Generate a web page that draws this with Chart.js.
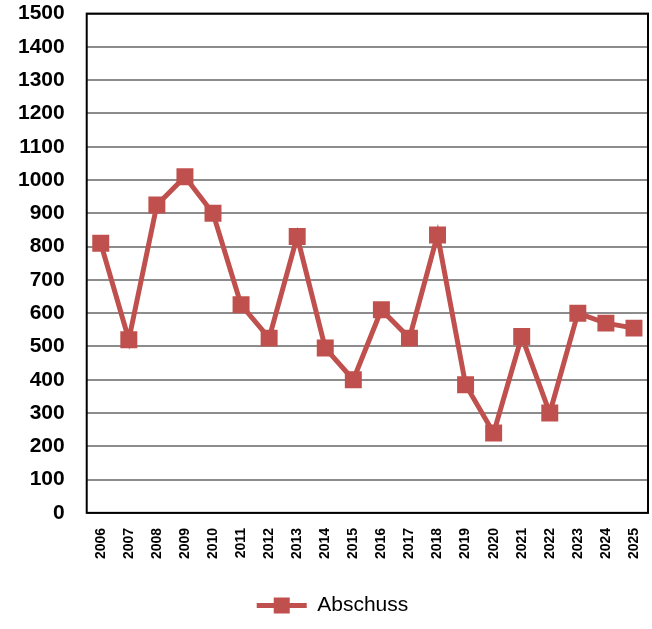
<!DOCTYPE html>
<html>
<head>
<meta charset="utf-8">
<script src="https://cdn.jsdelivr.net/npm/chart.js@4.4.1/dist/chart.umd.min.js"></script>
<style>
  html, body { margin: 0; padding: 0; background: #fff; }
  #wrap { width: 652px; height: 629px; }
</style>
</head>
<body>
<div id="wrap"><canvas id="chart"></canvas></div>
<script>
// Jahre und Werte
const years = ["2006", "2007", "2008", "2009", "2010", "2011", "2012", "2013", "2014", "2015",
               "2016", "2017", "2018", "2019", "2020", "2021", "2022", "2023", "2024", "2025"];
const abschuss = [810, 520, 925, 1010, 900, 625, 525, 830, 495, 400,
                  610, 525, 835, 385, 240, 530, 300, 600, 570, 555];
const seriesName = "Abschuss";
const lineColor = "#C0504D";

// Rahmen um die Plotflaeche
const frame = {
    id: "frame",
    afterDraw(chart) {
        const a = chart.chartArea;
        const c = chart.ctx;
        c.save();
        c.strokeStyle = "#000";
        c.lineWidth = 2;
        c.strokeRect(a.left, a.top, a.right - a.left, a.bottom - a.top);
        c.restore();
    }
};

const ctx = document.getElementById("chart").getContext("2d");
new Chart(ctx, {
    type: "line",
    data: {
        labels: years,
        datasets: [{
            label: seriesName,
            data: abschuss,
            borderColor: lineColor,
            backgroundColor: lineColor,
            borderWidth: 5,
            pointStyle: "rect",
            pointRadius: 12,
            pointHoverRadius: 12,
            pointBorderWidth: 0,
            tension: 0
        }]
    },
    options: {
        responsive: true,
        maintainAspectRatio: false,
        animation: false,
        layout: { autoPadding: false, padding: { top: 0, right: 4, left: 17, bottom: 3 } },
        scales: {
            x: {
                offset: true,
                grid: { display: false },
                border: { display: false },
                // gedrehte Jahreszahlen brauchen rechts keinen Extraplatz
                afterFit: (s) => { s.paddingRight = 0; },
                ticks: {
                    color: "#000",
                    font: { family: "Arial, 'Liberation Sans'", size: 14, weight: "bold" },
                    minRotation: 90,
                    maxRotation: 90,
                    autoSkip: false,
                    padding: 7
                }
            },
            y: {
                min: 0,
                max: 1500,
                // unsichtbare Ticks als Abstand zwischen Zahlen und Achse
                grid: { color: "#8c8c8c", lineWidth: 2, drawTicks: true, tickLength: 21, tickColor: "rgba(0,0,0,0)" },
                border: { display: false },
                ticks: {
                    stepSize: 100,
                    color: "#000",
                    font: { family: "Arial, 'Liberation Sans'", size: 21, weight: "bold" },
                    padding: 1,
                    callback: (v) => String(v)
                }
            }
        },
        plugins: {
            legend: {
                position: "bottom",
                labels: {
                    color: "#000",
                    font: { family: "Arial, 'Liberation Sans'", size: 21 },
                    boxWidth: 50,
                    boxHeight: 5,
                    padding: 29,
                    generateLabels(chart) {
                        return [{
                            text: seriesName,
                            fillStyle: lineColor,
                            strokeStyle: lineColor,
                            lineWidth: 0,
                            datasetIndex: 0
                        }];
                    }
                }
            },
            tooltip: { enabled: false }
        }
    },
    plugins: [frame, {
        id: "legendMarker",
        afterDraw(chart) {
            const it = chart.legend.legendHitBoxes && chart.legend.legendHitBoxes[0];
            if (!it) return;
            const c = chart.ctx;
            const cx = it.left + 25;
            const cy = it.top + it.height / 2;
            c.save();
            c.fillStyle = lineColor;
            c.fillRect(cx - 8, cy - 8, 16, 16);
            c.restore();
        }
    }]
});
</script>
</body>
</html>
